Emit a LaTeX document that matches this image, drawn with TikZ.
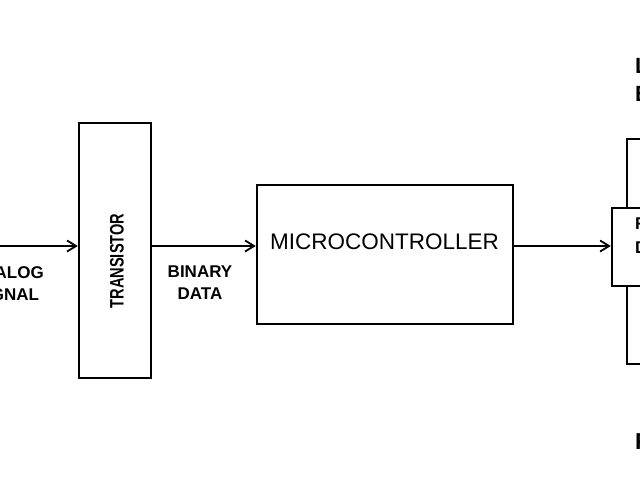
\documentclass[tikz,border=0pt]{standalone}
\usepackage{fontspec}
\setmainfont{Liberation Sans}
\usetikzlibrary{arrows.meta}
\begin{document}
\begin{tikzpicture}[x=1pt,y=-1pt,
  box/.style={draw, line width=2.4pt, inner sep=0pt, fill=white},
  arr/.style={line width=1.8pt, -{Straight Barb[length=9pt,width=11pt,line width=1.8pt]}},
  wire/.style={line width=2.4pt},
  lbl/.style={font=\bfseries\fontsize{17}{22}\selectfont, align=center, inner sep=0pt},
  rlbl/.style={font=\bfseries\fontsize{22}{28}\selectfont, align=left, inner sep=0pt, anchor=base west}]
\useasboundingbox (0,0) rectangle (640,480);
\clip (0,0) rectangle (640,480);
\fill[white] (0,0) rectangle (640,480);
% blocks
\node[box, minimum width=72pt, minimum height=255pt] (tr) at (115,250.5) {};
\node[rotate=90, inner sep=0pt, font=\bfseries\fontsize{19.5}{22}\selectfont] (trl) at (117,261) {\scalebox{0.75}[1]{TRANSISTOR}};
\node[box, minimum width=256pt, minimum height=139pt] (mc) at (385,254.5) {};
\node[inner sep=0pt, anchor=base, font=\fontsize{22.5}{26}\selectfont] (mcl) at (384.5,249) {MICROCONTROLLER};
\node[box, minimum width=48pt, minimum height=78pt] (rb) at (636,247) {};
\node[rlbl, font=\bfseries\fontsize{17}{24}\selectfont] (rbl) at (635,253) {RELAY\\DRIVER};
% connectors
\coordinate (in) at (-5,246);
\draw[arr] (in) -- (in -| tr.west);
\draw[arr] (tr.east |- in) -- (in -| mc.west);
\draw[arr] (mc.east |- in) -- (in -| rb.west);
\draw[wire] ([xshift=16pt]rb.north west) -- ++(0,-68) -- ++(50,0);
\draw[wire] ([xshift=16pt]rb.south west) -- ++(0,77) -- ++(50,0);
% labels
\node[lbl, anchor=base] (an) at (7,300) {ANALOG\\SIGNAL};
\node[lbl, anchor=base] (bd) at (200,299) {BINARY\\DATA};
\node[rlbl] (top) at (635,101) {LIGHT\\BULB};
\node[rlbl, font=\bfseries\fontsize{23}{28}\selectfont] (bot) at (635,449) {FAN};
\end{tikzpicture}
\end{document}
